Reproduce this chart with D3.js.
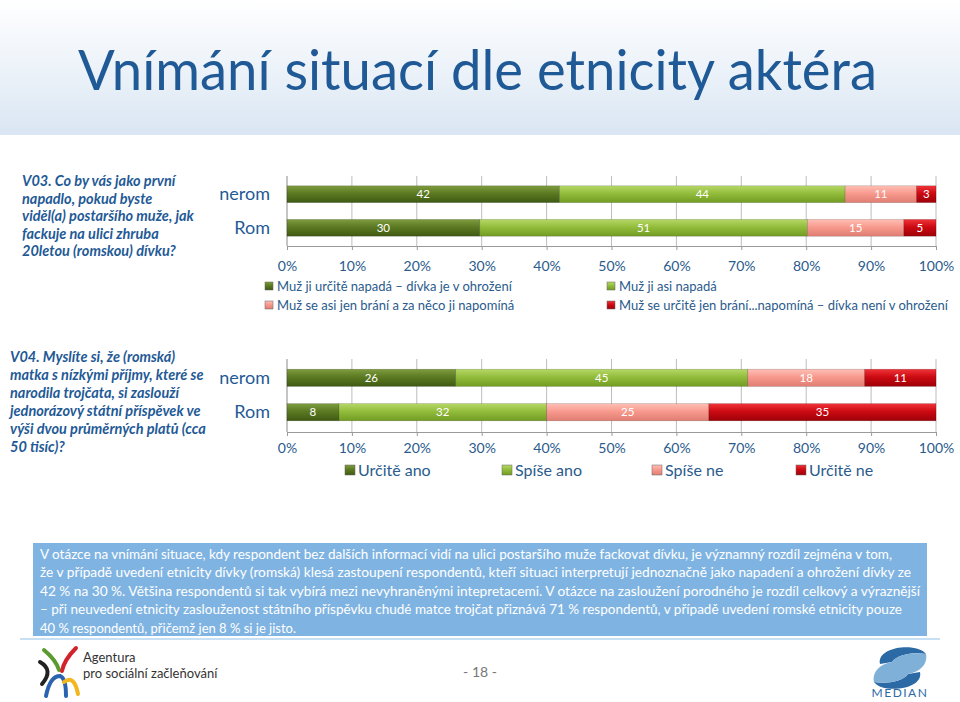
<!DOCTYPE html>
<html lang="cs">
<head>
<meta charset="utf-8">
<title>Vnímání situací dle etnicity aktéra</title>
<script src="https://d3js.org/d3.v7.min.js"></script>
<style>
  body { margin: 0; background: #fff; }
  svg { display: block; font-family: Lato, "Open Sans", sans-serif; }
</style>
</head>
<body>
<svg id="slide" width="960" height="702"></svg>
<script>
// --- data ---
var categories = ['nerom', 'Rom'];

var v03Keys = ['urciteNapada', 'asiNapada', 'asiBrani', 'urciteBrani'];
var v03Labels = ['Muž ji určitě napadá – dívka je v ohrožení', 'Muž ji asi napadá',
                 'Muž se asi jen brání a za něco ji napomíná', 'Muž se určitě jen brání...napomíná – dívka není v ohrožení'];
var v03Nerom = [42, 44, 11, 3];
var v03Rom = [30, 51, 15, 5];

var v04Keys = ['urciteAno', 'spiseAno', 'spiseNe', 'urciteNe'];
var v04Labels = ['Určitě ano', 'Spíše ano', 'Spíše ne', 'Určitě ne'];
var v04Nerom = [26, 45, 18, 11];
var v04Rom = [8, 32, 25, 35];

var tickValues = [0, 0.1, 0.2, 0.3, 0.4, 0.5, 0.6, 0.7, 0.8, 0.9, 1];

var q03Lines = ['V03. Co by vás jako první', 'napadlo, pokud byste', 'viděl(a) postaršího muže, jak',
                'fackuje na ulici zhruba', '20letou (romskou) dívku?'];
var q04Lines = ['V04. Myslíte si, že (romská)', 'matka s nízkými příjmy, které se', 'narodila trojčata, si zaslouží',
                'jednorázový státní příspěvek ve', 'výši dvou průměrných platů (cca', '50 tisíc)?'];
var noteLines = [
  'V otázce na vnímání situace, kdy respondent bez dalších informací vidí na ulici postaršího muže fackovat dívku, je významný rozdíl zejména v tom,',
  'že v případě uvedení etnicity dívky (romská) klesá zastoupení respondentů, kteří situaci interpretují jednoznačně jako napadení a ohrožení dívky ze',
  '42 % na 30 %. Většina respondentů si tak vybírá mezi nevyhraněnými intepretacemi. V otázce na zasloužení porodného je rozdíl celkový a výraznější',
  '– při neuvedení etnicity zaslouženost státního příspěvku chudé matce trojčat přiznává 71 % respondentů, v případě uvedení romské etnicity pouze',
  '40 % respondentů, přičemž jen 8 % si je jisto.'
];
var noteWidths = [852, 871, 880, 862, 0];

var blue = '#1f5a96';
var svg = d3.select('#slide');
var defs = svg.append('defs');

// header gradient
var hg = defs.append('linearGradient').attr('id', 'hdr').attr('x1', 0).attr('y1', 0).attr('x2', 0).attr('y2', 1);
hg.append('stop').attr('offset', '0%').attr('stop-color', '#ffffff');
hg.append('stop').attr('offset', '100%').attr('stop-color', '#dae6f3');
svg.append('rect').attr('x', 0).attr('y', 0).attr('width', 960).attr('height', 135).attr('fill', 'url(#hdr)');

svg.append('text')
    .attr('x', 78).attr('y', 90)
    .attr('textLength', 799).attr('lengthAdjust', 'spacingAndGlyphs')
    .style('font-size', '56px').style('font-weight', 400).style('fill', blue)
    .text('Vnímání situací dle etnicity aktéra');

// bar gradients
var palette = [
  ['#7f9c3f', '#5c7a22', '#3f5a12'],
  ['#b6d867', '#93bd3c', '#729c22'],
  ['#ffbfb6', '#f89a8e', '#e07d72'],
  ['#f0343a', '#cc0a12', '#9e0008']
];
palette.forEach(function (c, i) {
  var g = defs.append('linearGradient').attr('id', 'bar' + i).attr('x1', 0).attr('y1', 0).attr('x2', 0).attr('y2', 1);
  g.append('stop').attr('offset', '0%').attr('stop-color', c[0]);
  g.append('stop').attr('offset', '45%').attr('stop-color', c[1]);
  g.append('stop').attr('offset', '100%').attr('stop-color', c[2]);
});

var x = d3.scaleLinear().domain([0, 1]).range([287, 936]);

function drawChart(keys, rows, yTop, yBottom, axisY, pad) {
  var table = categories.map(function (cat, i) {
    var o = { cat: cat };
    keys.forEach(function (k, j) { o[k] = rows[i][j]; });
    return o;
  });
  var series = d3.stack().keys(keys).offset(d3.stackOffsetExpand)(table);
  var y = d3.scaleBand().domain(categories).range([yTop, yBottom]).padding(0.5);
  var g = svg.append('g');

  // gridlines
  g.selectAll('line.grid').data(tickValues).join('line')
      .attr('x1', function (d) { return x(d); }).attr('x2', function (d) { return x(d); })
      .attr('y1', y.range()[0] + 7).attr('y2', axisY)
      .attr('stroke', d => d === 0 ? '#8c8c8c' : '#bdbdbd').attr('stroke-width', 1);

  var axis = g.append('g').attr('transform', 'translate(0,' + axisY + ')')
      .call(d3.axisBottom(x).tickValues(tickValues).tickFormat(d3.format('.0%')).tickSize(4).tickPadding(pad));
  axis.select('.domain').attr('stroke', '#9a9a9a');
  axis.selectAll('.tick line').attr('stroke', '#9a9a9a');
  axis.selectAll('text').style('font-size', '14px').style('fill', '#2a5b8c').style('font-family', 'Lato, sans-serif');

  var layer = g.selectAll('g.s').data(series).join('g').attr('fill', function (d, i) { return 'url(#bar' + i + ')'; });
  layer.selectAll('rect').data(function (d) { return d; }).join('rect')
      .attr('x', function (d) { return x(d[0]); })
      .attr('width', function (d) { return x(d[1]) - x(d[0]); })
      .attr('y', function (d) { return y(d.data.cat); })
      .attr('height', y.bandwidth())
      .attr('stroke', 'rgba(0,0,0,0.25)').attr('stroke-width', 0.6);

  layer.each(function (s) {
    d3.select(this).selectAll('text').data(s).join('text')
        .attr('x', function (d) { return (x(d[0]) + x(d[1])) / 2; })
        .attr('y', function (d) { return y(d.data.cat) + y.bandwidth() / 2 + 4; })
        .attr('text-anchor', 'middle')
        .style('font-size', '11.5px').style('fill', '#fff')
        .text(function (d) { return d.data[s.key]; });
  });

  g.selectAll('text.cat').data(categories).join('text')
      .attr('class', 'cat')
      .attr('x', 270).attr('y', function (d) { return y(d) + y.bandwidth() / 2 + 6; })
      .attr('text-anchor', 'end')
      .style('font-size', '18px').style('fill', blue)
      .text(function (d) { return d; });
}

drawChart(v03Keys, [v03Nerom, v03Rom], 169, 253, 246, 11);
drawChart(v04Keys, [v04Nerom, v04Rom], 352, 438, 432, 7);

// legends
function legendSwatch(g, i, size) {
  g.append('rect').attr('width', size).attr('height', size)
      .attr('fill', 'url(#bar' + i + ')').attr('stroke', '#666').attr('stroke-width', 0.5);
}
var leg1 = svg.append('g').selectAll('g').data(v03Labels).join('g')
    .attr('transform', function (d, i) { return 'translate(' + (i % 2 ? 607 : 265) + ',' + (i < 2 ? 282 : 301) + ')'; });
leg1.each(function (d, i) { legendSwatch(d3.select(this), i, 8); });
leg1.append('text').attr('x', 12).attr('y', 9).style('font-size', '13px').style('fill', '#2a5b8c').text(function (d) { return d; });

var leg2x = [345, 502, 652, 796];
var leg2 = svg.append('g').selectAll('g').data(v04Labels).join('g')
    .attr('transform', function (d, i) { return 'translate(' + leg2x[i] + ',465)'; });
leg2.each(function (d, i) { legendSwatch(d3.select(this), i, 10); });
leg2.append('text').attr('x', 13).attr('y', 11).style('font-size', '16px').style('fill', '#2a5b8c').text(function (d) { return d; });

// questions
function question(lines, x0, y0, dy) {
  svg.append('g').selectAll('text').data(lines).join('text')
      .attr('x', x0).attr('y', function (d, i) { return y0 + i * dy; })
      .style('font-size', '14.5px').style('font-weight', 'bold').style('font-style', 'italic')
      .style('fill', blue).text(function (d) { return d; });
}
question(q03Lines, 22, 186, 17.6);
question(q04Lines, 10, 362, 18);

// note box
svg.append('rect').attr('x', 33).attr('y', 543).attr('width', 894).attr('height', 93).attr('fill', '#7fb4e2');
svg.append('g').selectAll('text').data(noteLines).join('text')
    .attr('x', 40).attr('y', function (d, i) { return 559 + i * 18.4; })
    .attr('textLength', function (d, i) { return noteWidths[i] || null; })
    .attr('lengthAdjust', 'spacingAndGlyphs')
    .style('font-size', '13px').style('fill', '#fff')
    .text(function (d) { return d; });
svg.append('line').attr('x1', 20).attr('x2', 940).attr('y1', 639).attr('y2', 639).attr('stroke', '#b4d6f0').attr('stroke-width', 1.5);

// footer
svg.append('text').attr('x', 480).attr('y', 677).attr('text-anchor', 'middle')
    .style('font-size', '14px').style('fill', '#777').text('- 18 -');

var logo = svg.append('g').attr('transform', 'translate(60,672)').attr('fill', 'none').attr('stroke-width', 4).attr('stroke-linecap', 'round');
logo.append('path').attr('d', 'M-16,-22 Q-4,-12 -1,-2').attr('stroke', '#5a9a2e');
logo.append('path').attr('d', 'M16,-24 Q4,-12 2,-1').attr('stroke', '#d2232a');
logo.append('path').attr('d', 'M-20,-10 Q-6,-2 -18,12').attr('stroke', '#222');
logo.append('path').attr('d', 'M-14,24 Q-10,4 0,4 Q6,6 6,24').attr('stroke', '#2b63b0');
logo.append('path').attr('d', 'M4,10 Q14,2 18,22').attr('stroke', '#f2b61f');
svg.append('text').attr('x', 83).attr('y', 662).style('font-size', '13px').style('fill', '#333').text('Agentura');
svg.append('text').attr('x', 83).attr('y', 678).style('font-size', '13px').style('fill', '#333').text('pro sociální začleňování');

var ml = svg.append('g').attr('transform', 'translate(900,668)');
ml.append('path').attr('d', 'M-20,-4 C-24,-22 18,-26 26,-14 C14,-16 -2,-14 -8,-6 Z').attr('fill', '#2c6aa6');
ml.append('path').attr('d', 'M20,4 C24,22 -18,26 -26,14 C-14,16 2,14 8,6 Z').attr('fill', '#2c6aa6');
ml.append('path').attr('d', 'M-8,-6 C-2,-14 14,-16 26,-14 C28,-4 20,4 8,6 C2,14 -14,16 -26,14 C-28,4 -20,-4 -8,-6 Z').attr('fill', '#7fb0d8');
svg.append('text').attr('x', 900).attr('y', 697).attr('text-anchor', 'middle')
    .style('font-size', '12px').style('letter-spacing', '1.5px').style('fill', '#2c6aa6').text('MEDIAN');
</script>
</body>
</html>
